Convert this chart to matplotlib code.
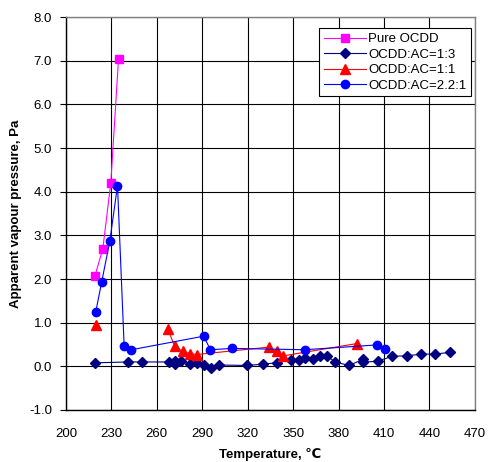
import numpy as np
import matplotlib
matplotlib.use('Agg')
import matplotlib.pyplot as plt

plt.rcParams['font.family'] = ['Liberation Sans', 'DejaVu Sans']

# Pure OCDD
pure_t = [219.0, 224.3, 229.6, 234.7]
pure_p = [2.06, 2.69, 4.21, 7.05]

# OCDD:AC=1:3
ac13_t = [219.2, 240.8, 250.3, 268.2, 272.3, 272.3, 276.2, 282.1, 286.6, 291.2, 295.8, 300.8,
          319.7, 329.8, 339.1, 348.6, 353.6, 358.1, 363.0, 368.0, 372.5, 377.5, 387.0,
          396.1, 396.1, 405.8, 415.6, 425.1, 434.6, 444.0, 453.4]
ac13_p = [0.08, 0.10, 0.10, 0.10, 0.13, 0.05, 0.12, 0.05, 0.08, 0.03, -0.04, 0.03,
          0.02, 0.05, 0.08, 0.15, 0.15, 0.20, 0.17, 0.23, 0.24, 0.10, 0.02,
          0.16, 0.09, 0.12, 0.23, 0.24, 0.28, 0.28, 0.32]

# OCDD:AC=1:1 (first point stands alone)
ac11_t = [219.9, np.nan, 267.3, 271.7, 277.0, 281.9, 286.3, 334.0, 339.1, 343.5, 391.9]
ac11_p = [0.95, np.nan, 0.85, 0.46, 0.34, 0.29, 0.27, 0.44, 0.34, 0.24, 0.52]

# OCDD:AC=2.2:1
ac221_t = [219.6, 223.6, 228.9, 234.0, 238.4, 243.2, 290.9, 295.4, 309.7, 357.6, 405.3, 410.6]
ac221_p = [1.24, 1.94, 2.86, 4.14, 0.46, 0.38, 0.69, 0.38, 0.41, 0.38, 0.49, 0.40]

fig = plt.figure(figsize=(4.89, 4.62), dpi=100)
ax = fig.add_axes([0.135, 0.1126, 0.836, 0.8505])

ax.plot(pure_t, pure_p, color='#FF00FF', marker='s', ms=5.5, lw=0.8, label='Pure OCDD')
ax.plot(ac13_t, ac13_p, color='#000080', marker='D', ms=5, lw=0.8, label='OCDD:AC=1:3')
ax.plot(ac11_t, ac11_p, color='#FF0000', marker='^', ms=6.5, lw=0.8, label='OCDD:AC=1:1')
ax.plot(ac221_t, ac221_p, color='#0000FF', marker='o', ms=6, lw=0.8, label='OCDD:AC=2.2:1')

ax.set_xlim(200, 470)
ax.set_ylim(-1.0, 8.0)
ax.set_xticks(np.arange(200, 471, 30))
ax.set_yticks(np.arange(-1.0, 8.01, 1.0))
ax.yaxis.set_major_formatter(matplotlib.ticker.FormatStrFormatter('%.1f'))
ax.grid(True, color='black', lw=0.8)
ax.set_axisbelow(True)
for s in ['top', 'right']:
    ax.spines[s].set_color('#808080')
    ax.spines[s].set_linewidth(1.0)
for s in ['left', 'bottom']:
    ax.spines[s].set_color('black')
    ax.spines[s].set_linewidth(1.0)
ax.tick_params(axis='both', direction='out', length=4, labelsize=9.5, pad=6)
ax.tick_params(axis='x', length=0, pad=13)

ax.set_xlabel('Temperature, \u2103', fontsize=9.5, fontweight='bold', labelpad=6)
ax.set_ylabel('Apparent vapour pressure, Pa', fontsize=9.5, fontweight='bold', labelpad=5)

leg = ax.legend(loc='upper right', bbox_to_anchor=(0.998, 0.978), fontsize=9.5,
                frameon=True, fancybox=False, edgecolor='black', framealpha=1,
                borderpad=0.35, labelspacing=0.25, handlelength=3.2, handletextpad=0.2,
                borderaxespad=0.2)
leg.get_frame().set_linewidth(0.8)

fig.savefig('out.png', dpi=100)
